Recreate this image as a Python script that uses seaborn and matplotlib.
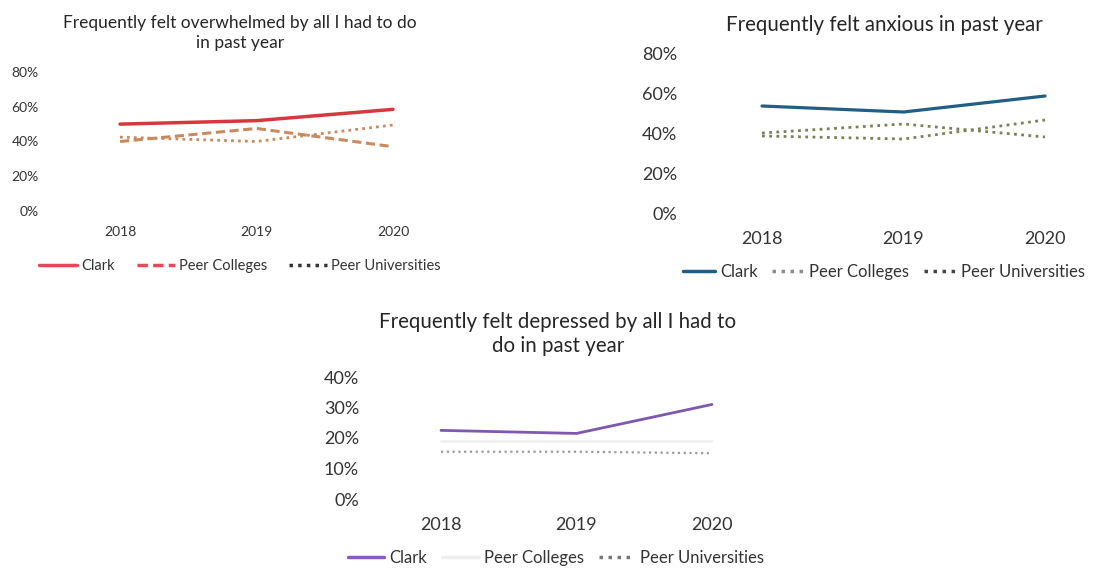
import matplotlib
matplotlib.use("Agg")
import matplotlib.pyplot as plt
from matplotlib.lines import Line2D
import seaborn as sns
import pandas as pd

sns.set_theme(style="white")
plt.rcParams['font.family'] = ['Lato', 'DejaVu Sans']

years = [2018, 2019, 2020]
groups = ["Clark", "Peer Colleges", "Peer Universities"]

# Frequently felt overwhelmed
overwhelmed_clark = [0.50, 0.52, 0.585]
overwhelmed_colleges = [0.40, 0.475, 0.37]
overwhelmed_universities = [0.425, 0.40, 0.495]

# Frequently felt anxious
anxious_clark = [0.535, 0.505, 0.585]
anxious_colleges = [0.40, 0.445, 0.38]
anxious_universities = [0.385, 0.37, 0.465]

# Frequently felt depressed
depressed_clark = [0.225, 0.215, 0.31]
depressed_colleges = [0.19, 0.19, 0.19]
depressed_universities = [0.155, 0.155, 0.15]

W, H = 1097, 570
fig = plt.figure(figsize=(W / 100, H / 100), dpi=100)


def make_df(a, b, c):
    rows = []
    for g, vals in zip(groups, [a, b, c]):
        for y, v in zip(years, vals):
            rows.append({"year": y, "value": v, "group": g})
    return pd.DataFrame(rows)


def panel(px_2018, px_2020, y0, ytop, ymax, step, vals, title, title_xy, title_fs,
          tick_fs, ylab_x, xlab_off, line_colors, line_dashes, widths, leg_colors, leg_dashes,
          leg_xy, leg_fs, leg_hl, leg_cs):
    # axes in pixel coords; 2018/2020 sit on px_2018/px_2020
    left = px_2018 - 30
    right = px_2020 + 30
    ax = fig.add_axes([left / W, 1 - y0 / H, (right - left) / W, (y0 - ytop) / H])
    df = make_df(*vals)
    sns.lineplot(data=df, x="year", y="value", hue="group", style="group",
                 palette=line_colors, dashes=line_dashes, legend=False, ax=ax)
    for ln, lw in zip(ax.lines, widths):
        ln.set_linewidth(lw)
    per = (px_2020 - px_2018) / 2
    ax.set_xlim(2018 - 30 / per, 2020 + 30 / per)
    ax.set_ylim(0, ymax)
    ticks = [i * step for i in range(int(round(ymax / step)) + 1)]
    ax.set_yticks(ticks)
    ax.set_yticklabels([f"{int(round(t * 100))}%" for t in ticks], fontsize=tick_fs, color="#333333")
    ax.set_xticks(years)
    ax.set_xticklabels([str(y) for y in years], fontsize=tick_fs, color="#333333")
    ax.tick_params(axis="x", pad=xlab_off, length=0)
    ax.tick_params(axis="y", pad=(left - ylab_x) * 0.72, length=0)
    ax.set_xlabel("")
    ax.set_ylabel("")
    for s in ax.spines.values():
        s.set_visible(False)
    ax.grid(False)
    ax.patch.set_alpha(0)
    fig.text(title_xy[0] / W, 1 - title_xy[1] / H, title, ha="center", va="center",
             fontsize=title_fs, color="#262626", linespacing=1.3)
    handles = [Line2D([], [], color=c, linestyle=d, linewidth=2.5)
               for c, d in zip(leg_colors, leg_dashes)]
    fig.legend(handles, groups, loc="center", bbox_to_anchor=(leg_xy[0] / W, 1 - leg_xy[1] / H),
               ncol=3, frameon=False, fontsize=leg_fs, handlelength=leg_hl, handletextpad=0.3,
               columnspacing=leg_cs, labelcolor="#333333", borderpad=0, borderaxespad=0)
    return ax


# overwhelmed (top left)
panel(120, 393, 211, 72, 0.8, 0.2,
      (overwhelmed_clark, overwhelmed_colleges, overwhelmed_universities),
      "Frequently felt overwhelmed by all I had to do\nin past year", (240, 33), 12.5,
      10, 39, 11,
      {"Clark": "#d6393d", "Peer Colleges": "#c98a5c", "Peer Universities": "#c98a5c"},
      {"Clark": "", "Peer Colleges": (3, 1.5), "Peer Universities": (1, 1.5)},
      [2.5, 2.2, 2.0],
      ["#e8475a", "#e8475a", "#333333"], ["-", (0, (3, 1.5)), (0, (1, 1.5))],
      (240, 266), 10.5, 2.6, 1.5)

# anxious (top right)
panel(762, 1045, 213, 53, 0.8, 0.2,
      (anxious_clark, anxious_colleges, anxious_universities),
      "Frequently felt anxious in past year", (884, 25), 14.8,
      13, 677, 13,
      {"Clark": "#205e86", "Peer Colleges": "#7d8055", "Peer Universities": "#7d8055"},
      {"Clark": "", "Peer Colleges": (1, 1.6), "Peer Universities": (1, 1.6)},
      [2.3, 2.0, 2.0],
      ["#205e86", "#8a8a8a", "#444444"], ["-", (0, (1, 1.6)), (0, (1, 1.6))],
      (884, 272), 12, 1.9, 0.9)

# depressed (bottom)
panel(441, 712, 499, 377, 0.4, 0.1,
      (depressed_clark, depressed_colleges, depressed_universities),
      "Frequently felt depressed by all I had to\ndo in past year", (558, 334), 14.8,
      13, 359, 13,
      {"Clark": "#7e57b0", "Peer Colleges": "#f1f1f1", "Peer Universities": "#9a9a9a"},
      {"Clark": "", "Peer Colleges": "", "Peer Universities": (1, 1.6)},
      [2.0, 2.0, 1.6],
      ["#8a5cc0", "#eeeeee", "#777777"], ["-", "-", (0, (1, 1.6))],
      (556, 558), 12, 2.2, 0.9)

fig.savefig("out.png", dpi=100, facecolor="white")
